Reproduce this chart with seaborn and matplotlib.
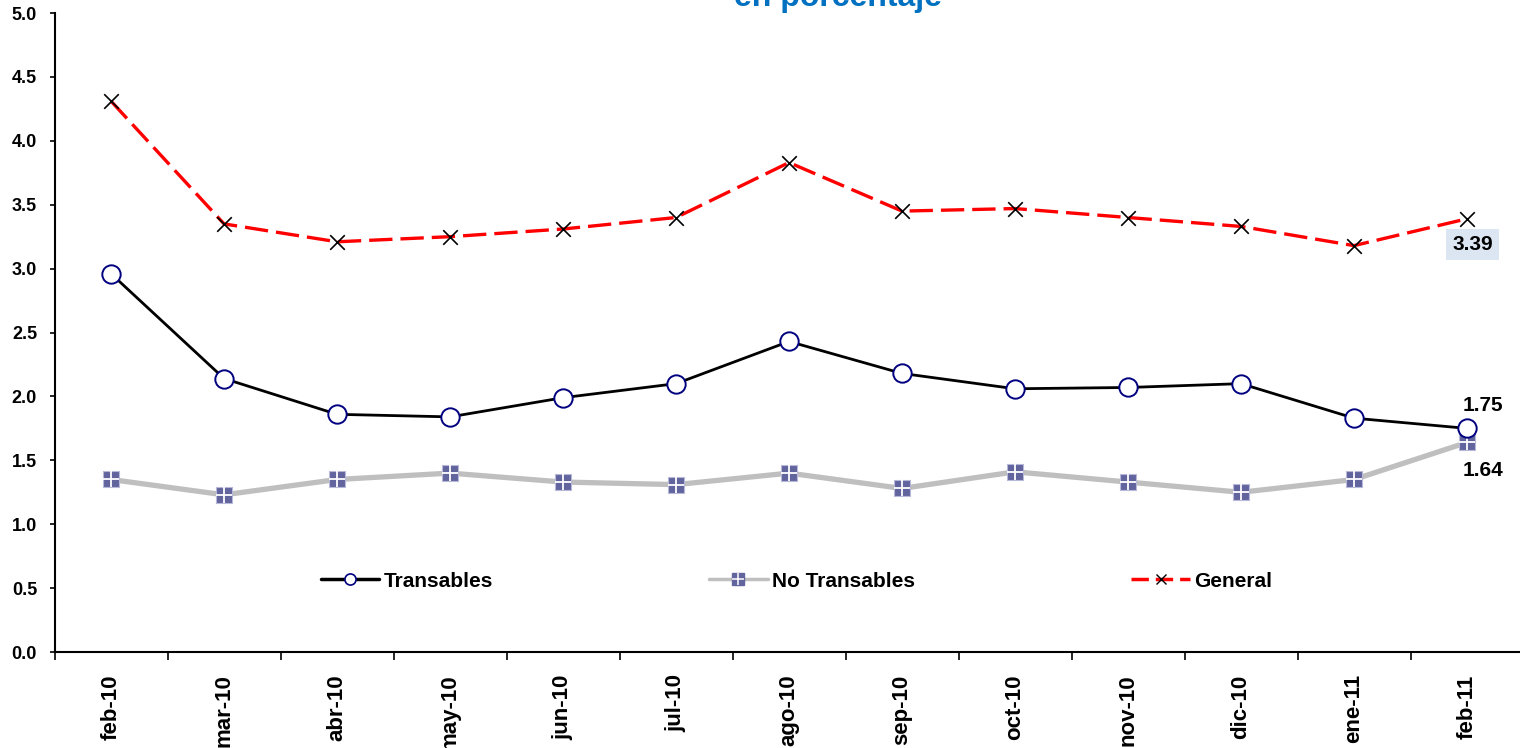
import numpy as np
import pandas as pd
import matplotlib
matplotlib.use('Agg')
import matplotlib.pyplot as plt
import seaborn as sns
from matplotlib.lines import Line2D
from matplotlib.legend_handler import HandlerTuple

# Datos
meses = ['feb-10', 'mar-10', 'abr-10', 'may-10', 'jun-10', 'jul-10', 'ago-10',
         'sep-10', 'oct-10', 'nov-10', 'dic-10', 'ene-11', 'feb-11']
transables = [2.96, 2.14, 1.86, 1.84, 1.99, 2.10, 2.43, 2.18, 2.06, 2.07, 2.10, 1.83, 1.75]
no_transables = [1.35, 1.23, 1.35, 1.40, 1.33, 1.31, 1.40, 1.28, 1.41, 1.33, 1.25, 1.35, 1.64]
general = [4.31, 3.35, 3.21, 3.25, 3.31, 3.40, 3.83, 3.45, 3.47, 3.40, 3.33, 3.18, 3.39]

sns.set_style('white')
plt.rcParams['font.family'] = ['Liberation Sans', 'DejaVu Sans']
plt.rcParams['font.weight'] = 'bold'
plt.rcParams['text.color'] = 'black'
plt.rcParams['xtick.color'] = 'black'
plt.rcParams['ytick.color'] = 'black'

fig = plt.figure(figsize=(15.2, 7.48), dpi=100)
ax = fig.add_axes([0.0359, 0.1283, 0.9664, 0.8543])

x = np.arange(len(meses))
navy = '#000080'
slate = '#62649E'

# No Transables
sns.lineplot(x=x, y=no_transables, ax=ax, color='#BFBFBF', linewidth=3.8, zorder=2)
sns.scatterplot(x=x, y=no_transables, ax=ax, marker='s', s=120, color=slate,
                edgecolor='#B8B8D8', linewidth=0.8, zorder=3)
sns.scatterplot(x=x, y=no_transables, ax=ax, marker='+', s=120, color='white',
                linewidth=1.3, zorder=4)

# Transables
sns.lineplot(x=x, y=transables, ax=ax, color='black', linewidth=2, zorder=5)
sns.scatterplot(x=x, y=transables, ax=ax, marker='o', s=175, color='white',
                edgecolor=navy, linewidth=1.4, zorder=6)

# General
sns.lineplot(x=x, y=general, ax=ax, color='red', linewidth=2.4, zorder=7)
ax.lines[-1].set_dashes([7, 2.4])
sns.scatterplot(x=x, y=general, ax=ax, marker='x', s=110, color='black',
                linewidth=1.2, zorder=8)

ax.set_xlim(-0.5, len(meses) - 0.5)
ax.set_ylim(0, 5.0)
ax.set_yticks(np.arange(0, 5.01, 0.5))
ax.set_yticklabels([f'{v:.1f}' for v in np.arange(0, 5.01, 0.5)], fontsize=13, fontweight='bold')
ax.set_xticks(x)
ax.set_xticklabels(meses, rotation=90, fontsize=16, fontweight='bold')
ax.set_xticks(np.arange(-0.5, len(meses), 1), minor=True)
ax.tick_params(axis='x', which='major', length=0, pad=16)
ax.tick_params(axis='x', which='minor', length=6, width=1.2, direction='out', color='black')
ax.tick_params(axis='y', length=3.6, width=1.2, direction='out', color='black', pad=9)
ax.tick_params(bottom=True, left=True, which='both')
for s in ['top', 'right']:
    ax.spines[s].set_visible(False)
for s in ['left', 'bottom']:
    ax.spines[s].set_color('black')
    ax.spines[s].set_linewidth(1.5)
ax.set_xlabel('')
ax.set_ylabel('')

# Etiquetas
ax.text(x[-1] + 0.05, general[-1] - 0.2, f'{general[-1]:.2f}', fontsize=15, fontweight='bold',
        ha='center', va='center',
        bbox=dict(boxstyle='square,pad=0.3', facecolor='#DCE6F2', edgecolor='none'))
ax.text(x[-1] + 0.14, transables[-1] + 0.18, f'{transables[-1]:.2f}', fontsize=15,
        fontweight='bold', ha='center', va='center')
ax.text(x[-1] + 0.14, no_transables[-1] - 0.22, f'{no_transables[-1]:.2f}', fontsize=15,
        fontweight='bold', ha='center', va='center')

# Leyenda
h1 = Line2D([], [], color='black', linewidth=2.5, marker='o', markersize=8,
            markerfacecolor='white', markeredgecolor=navy, markeredgewidth=1.2)
h2a = Line2D([], [], color='#BFBFBF', linewidth=2.5, marker='s', markersize=8,
             markerfacecolor=slate, markeredgecolor=slate)
h2b = Line2D([], [], linestyle='none', marker='+', markersize=8, markeredgecolor='white',
             markeredgewidth=1.1)
h3 = Line2D([], [], color='red', linewidth=2.5, dashes=[5, 2], marker='x', markersize=7,
            markeredgecolor='black', markeredgewidth=1)
ax.legend([h1, (h2a, h2b), h3], ['Transables', 'No Transables', 'General'],
          handler_map={tuple: HandlerTuple(ndivide=1, pad=0)},
          loc='center', bbox_to_anchor=(0.505, 0.111), ncol=3, frameon=False,
          prop={'size': 15, 'weight': 'bold'}, columnspacing=10.4, handlelength=2.8,
          handletextpad=0.2)

# Titulo (cortado en la parte superior)
fig.text(0.551, 1.003, 'en porcentaje', color='#0070C0', fontsize=23, fontweight='bold',
         ha='center', va='center', family=['Liberation Sans', 'DejaVu Sans'])

fig.savefig('out.png', dpi=100)
